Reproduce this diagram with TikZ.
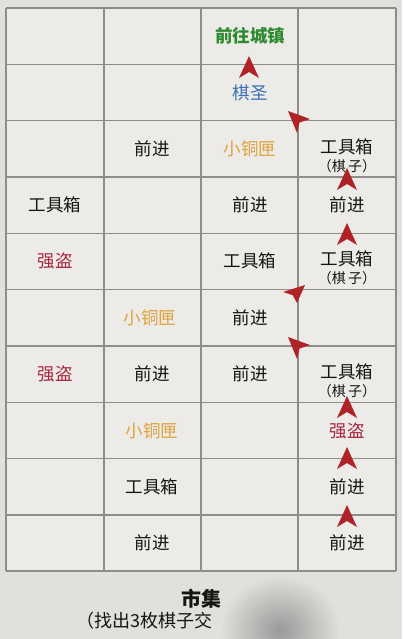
\documentclass[tikz,border=0pt]{standalone}
\usepackage{fontspec}
\setmainfont{Noto Sans CJK SC}
\definecolor{bg}{HTML}{E2E0DB}
\definecolor{cellbg}{HTML}{ECEBE8}
\definecolor{gridc}{HTML}{8E8D88}
\definecolor{ink}{HTML}{151515}
\definecolor{goc}{HTML}{2E8A30}
\definecolor{bluec}{HTML}{3C70B6}
\definecolor{orangec}{HTML}{DFA23E}
\definecolor{redc}{HTML}{A6263E}
\definecolor{arrowc}{HTML}{AE2228}
\begin{document}
\begin{tikzpicture}[x=1pt,y=-1pt,
  gridline/.style={draw=gridc,line width=1.3pt},
  txt/.style={font=\fontsize{17.5}{20}\selectfont,text=ink,inner sep=0pt},
  sub/.style={font=\fontsize{14}{16}\selectfont,text=ink,inner sep=0pt},
  navarrow/.pic={\fill[arrowc] (0,0) -- (-10,22) -- (0,16) -- (10,22) -- cycle;},
  arrowfill/.style={fill=arrowc}]
\useasboundingbox (0,0) rectangle (402,639);
\fill[bg] (0,0) rectangle (402,639);
\fill[cellbg] (6,8) rectangle (396,571);
\foreach \x in {6,104,201,298,396} \draw[gridline] (\x,8) -- (\x,571);
\foreach \y in {8,64.3,120.6,177,233.3,289.6,346,402.3,458.6,515,571} \draw[gridline] (6,\y) -- (396,\y);
% row 1
\node[txt,text=goc,font=\fontsize{17.5}{20}\selectfont\bfseries] (r1c3) at (250,36) {前往城镇};
% row 2
\node[txt,text=bluec] (r2c3) at (250,92.5) {棋圣};
% row 3
\node[txt] (r3c2) at (152,149) {前进};
\node[txt,text=orangec] (r3c3) at (250,149) {小铜匣};
\node[txt] (r3c4) at (347,147) {工具箱};
\node[sub] (r3c4b) at (347,166) {（棋\,子）};
% row 4
\node[txt] (r4c1) at (55,205) {工具箱};
\node[txt] (r4c3) at (250,205) {前进};
\node[txt] (r4c4) at (347,205) {前进};
% row 5
\node[txt,text=redc] (r5c1) at (55,261) {强盗};
\node[txt] (r5c3) at (250,261) {工具箱};
\node[txt] (r5c4) at (347,259) {工具箱};
\node[sub] (r5c4b) at (347,278) {（棋\,子）};
% row 6
\node[txt,text=orangec] (r6c2) at (150,318) {小铜匣};
\node[txt] (r6c3) at (250,318) {前进};
% row 7
\node[txt,text=redc] (r7c1) at (55,374) {强盗};
\node[txt] (r7c2) at (152,374) {前进};
\node[txt] (r7c3) at (250,374) {前进};
\node[txt] (r7c4) at (347,372) {工具箱};
\node[sub] (r7c4b) at (347,391) {（棋\,子）};
% row 8
\node[txt,text=orangec] (r8c2) at (152,430.5) {小铜匣};
\node[txt,text=redc] (r8c4) at (347,430.5) {强盗};
% row 9
\node[txt] (r9c2) at (152,487) {工具箱};
\node[txt] (r9c4) at (347,487) {前进};
% row 10
\node[txt] (r10c2) at (152,543) {前进};
\node[txt] (r10c4) at (347,543) {前进};
% arrows (vertical)
\pic at (249,56) {navarrow};
\pic at (347,168) {navarrow};
\pic at (347,223) {navarrow};
\pic at (347,396) {navarrow};
\pic at (347,447) {navarrow};
\pic at (347,505) {navarrow};
% arrows (diagonal)
\fill[arrowfill] (288,111) -- (310,119) -- (299.5,122.5) -- (297,133) -- cycle;
\fill[arrowfill] (305,285) -- (283,292) -- (292.7,295.2) -- (297,303) -- cycle;
\fill[arrowfill] (288,337) -- (310,345) -- (299.5,348.5) -- (297,359) -- cycle;
% bottom
\node[txt,font=\fontsize{20}{22}\selectfont\bfseries] (title) at (201,599) {市集};
\node[txt,anchor=west,font=\fontsize{18}{20}\selectfont] (note) at (76,621) {（找出3枚棋子交};
\shade[inner color=black!40, outer color=bg] (280,630) ellipse (60 and 55);
\end{tikzpicture}
\end{document}
